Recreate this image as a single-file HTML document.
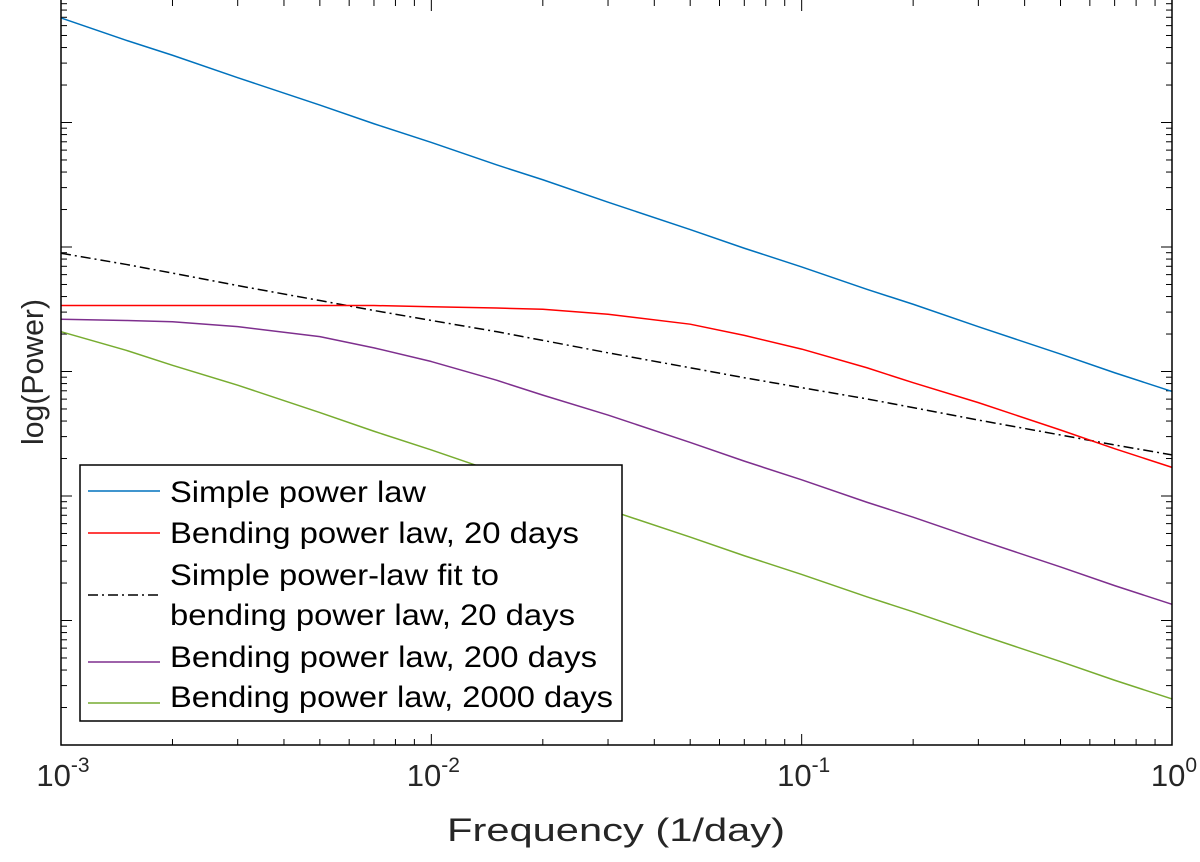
<!DOCTYPE html>
<html><head><meta charset="utf-8"><style>
html,body{margin:0;padding:0;background:#fff;}
svg text{font-family:"Liberation Sans",Arial,sans-serif;}
</style></head><body>
<svg id="chart" width="1200" height="857" viewBox="0 0 1200 857" xmlns="http://www.w3.org/2000/svg">
<g id="grid"></g>
<g id="series"></g>
<rect x="61" y="-1" width="1111" height="746" fill="none" stroke="#000" stroke-width="1.5"/>
<g id="xlabels"></g>
<text x="447" y="841" font-size="32" textLength="338" lengthAdjust="spacingAndGlyphs" fill="#262626">Frequency (1/day)</text>
<text transform="translate(43,445) rotate(-90)" font-size="31" textLength="146" lengthAdjust="spacingAndGlyphs" fill="#262626">log(Power)</text>
<g>
<rect x="80" y="465" width="542" height="256" fill="#fff" stroke="#000" stroke-width="1.5"/>
<g><line x1="88" y1="491" x2="160" y2="491" stroke="#0072BD" stroke-width="1.5"/><text x="170" y="502" font-size="30" textLength="256" lengthAdjust="spacingAndGlyphs">Simple power law</text></g>
<g><line x1="88" y1="533" x2="160" y2="533" stroke="#ff0000" stroke-width="1.5"/><text x="170" y="543" font-size="30" textLength="409" lengthAdjust="spacingAndGlyphs">Bending power law, 20 days</text></g>
<g><line x1="88" y1="595" x2="160" y2="595" stroke="#000" stroke-width="1.5" stroke-dasharray="10,4,2,4"/><text x="170" y="585" font-size="30" textLength="329" lengthAdjust="spacingAndGlyphs">Simple power-law fit to</text><text x="170" y="625" font-size="30" textLength="405" lengthAdjust="spacingAndGlyphs">bending power law, 20 days</text></g>
<g><line x1="88" y1="662" x2="160" y2="662" stroke="#7E2F8E" stroke-width="1.5"/><text x="170" y="667" font-size="30" textLength="427" lengthAdjust="spacingAndGlyphs">Bending power law, 200 days</text></g>
<g><line x1="88" y1="703" x2="160" y2="703" stroke="#77AC30" stroke-width="1.5"/><text x="170" y="707" font-size="30" textLength="443" lengthAdjust="spacingAndGlyphs">Bending power law, 2000 days</text></g>
</g>
</svg>
<script>
const frequencies = [0.001,0.0015,0.002,0.003,0.005,0.007,0.01,0.015,0.02,0.03,0.05,0.07,0.1,0.15,0.2,0.3,0.5,0.7,1];
const logSimple = [5.84,5.66,5.54,5.36,5.14,4.99,4.84,4.66,4.54,4.36,4.14,3.99,3.84,3.66,3.54,3.36,3.14,2.99,2.84];
const logBend20 = [3.53,3.53,3.53,3.53,3.53,3.53,3.52,3.51,3.50,3.46,3.38,3.29,3.18,3.03,2.91,2.75,2.53,2.38,2.23];
const logFit20 = [3.95,3.86,3.79,3.69,3.57,3.49,3.41,3.32,3.25,3.15,3.03,2.95,2.87,2.78,2.71,2.61,2.49,2.41,2.33];
const logBend200 = [3.42,3.41,3.40,3.36,3.28,3.19,3.08,2.93,2.81,2.65,2.43,2.28,2.13,1.95,1.83,1.65,1.43,1.28,1.13];
const logBend2000 = [3.32,3.17,3.05,2.89,2.67,2.52,2.37,2.19,2.07,1.89,1.67,1.52,1.37,1.19,1.07,0.89,0.67,0.52,0.37];
const xTickExps = [-3,-2,-1,0];
const yDecades = [0,1,2,3,4,5,6];

const NS = "http://www.w3.org/2000/svg";
const X0 = 61, X1 = 1172, Y0 = 745, DEC = 124.5;
function xs(f){ return X0 + (Math.log10(f) + 3) / 3 * (X1 - X0); }
function ys(lp){ return Y0 - lp * DEC; }
function mk(tag, attrs, parent){ const e = document.createElementNS(NS, tag); for (const k in attrs) e.setAttribute(k, attrs[k]); parent.appendChild(e); return e; }

const grid = document.getElementById('grid');
for (let e = -3; e <= 0; e++) {
  for (let m = 1; m <= 9; m++) {
    if (e === 0 && m > 1) break;
    const x = xs(m * Math.pow(10, e));
    const len = m === 1 ? 11 : 6;
    const t1 = mk('line', {x1:x, y1:Y0, x2:x, y2:Y0-len, stroke:'#000', 'stroke-width':1}, grid);
    
    
    const t2 = mk('line', {x1:x, y1:0, x2:x, y2:len, stroke:'#000', 'stroke-width':1}, grid);
    
    
  }
}
yDecades.forEach(d => {
  for (let m = 1; m <= 9; m++) {
    const lp = d + Math.log10(m);
    if (lp > 6.02) break;
    const y = ys(lp);
    const len = m === 1 ? 11 : 6;
    const a = mk('line', {x1:X0, y1:y, x2:X0+len, y2:y, stroke:'#000', 'stroke-width':1}, grid);
    
    
    const b = mk('line', {x1:X1, y1:y, x2:X1-len, y2:y, stroke:'#000', 'stroke-width':1}, grid);
    
    
  }
});
const xl = document.getElementById('xlabels');
xTickExps.forEach(e => {
  const t = mk('text', {x: xs(Math.pow(10, e)) + 2, y: 786, 'font-size': 31, 'text-anchor': 'middle', fill: '#262626'}, xl);
  
  
  t.textContent = '10';
  const s = mk('tspan', {dy: -14, 'font-size': 21}, t);
  s.textContent = String(e);
});
const ser = document.getElementById('series');
function line(vals, color, name, dash){
  const pts = frequencies.map((f, i) => xs(f).toFixed(2) + ',' + ys(vals[i]).toFixed(2)).join(' ');
  const p = mk('polyline', {points: pts, fill: 'none', stroke: color, 'stroke-width': 1.5, 'stroke-linejoin': 'round'}, ser);
  if (dash) p.setAttribute('stroke-dasharray', dash);
  
  
}
line(logSimple, '#0072BD', 'simple-power-law-line');
line(logFit20, '#000000', 'power-law-fit-line', '10,4,2,4');
line(logBend20, '#ff0000', 'bending-20-days-line');
line(logBend200, '#7E2F8E', 'bending-200-days-line');
line(logBend2000, '#77AC30', 'bending-2000-days-line');
</script>
</body></html>
